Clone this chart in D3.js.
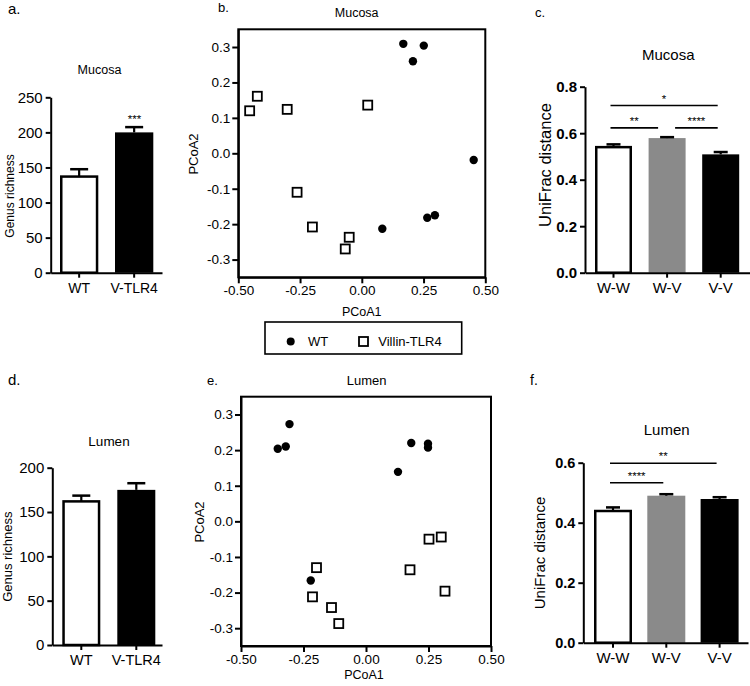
<!DOCTYPE html>
<html><head><meta charset="utf-8">
<script src="https://cdn.jsdelivr.net/npm/d3@7"></script>
<style>
body{margin:0;background:#fff}
svg{display:block}
text{font-family:"Liberation Sans",Arial,sans-serif;fill:#000}
</style>
</head><body>
<svg id="fig" width="750" height="686"></svg>
<script>
// ---------------- DATA ----------------
const richCats = ["WT", "V-TLR4"];
const mucosaRich = [137, 200];
const mucosaRichErr = [10.5, 7.5];
const lumenRich = [162, 175];
const lumenRichErr = [6.5, 7.5];
const richTicksMucosa = [0, 50, 100, 150, 200, 250];
const richTicksLumen = [0, 50, 100, 150, 200];

const uniCats = ["W-W", "W-V", "V-V"];
const mucosaUni = [0.540, 0.579, 0.509];
const mucosaUniErr = [0.012, 0.004, 0.010];
const lumenUni = [0.439, 0.490, 0.479];
const lumenUniErr = [0.012, 0.005, 0.006];
const uniTicksMucosa = [0, 0.2, 0.4, 0.6, 0.8];
const uniTicksLumen = [0, 0.2, 0.4, 0.6];
const mucosaSig = [
  {from: "W-W", to: "V-V", label: "*", level: 0.719},
  {from: "W-W", to: "W-V", label: "**", level: 0.623},
  {from: "W-V", to: "V-V", label: "****", level: 0.623}
];
const lumenSig = [
  {from: "W-W", to: "V-V", label: "**", level: 0.598},
  {from: "W-W", to: "W-V", label: "****", level: 0.533}
];

const pcoaXTicks = [-0.5, -0.25, 0, 0.25, 0.5];
const pcoaYTicks = [-0.3, -0.2, -0.1, 0, 0.1, 0.2, 0.3];
const mucosaWT_x = [0.168, 0.207, 0.251, 0.453, 0.083, 0.265, 0.296];
const mucosaWT_y = [0.309, 0.260, 0.304, -0.019, -0.213, -0.182, -0.175];
const mucosaVil_x = [-0.454, -0.423, -0.302, 0.024, -0.262, -0.200, -0.051, -0.067];
const mucosaVil_y = [0.120, 0.161, 0.124, 0.136, -0.110, -0.208, -0.237, -0.270];
const lumenWT_x = [-0.353, -0.321, -0.306, 0.181, 0.248, 0.248, 0.128, -0.221];
const lumenWT_y = [0.204, 0.210, 0.273, 0.220, 0.218, 0.207, 0.139, -0.166];
const lumenVil_x = [-0.198, -0.214, -0.138, -0.109, 0.176, 0.252, 0.301, 0.316];
const lumenVil_y = [-0.130, -0.212, -0.242, -0.287, -0.136, -0.050, -0.044, -0.196];
const legendLabels = ["WT", "Villin-TLR4"];

// ---------------- DRAW ----------------
const svg = d3.select("#fig");
svg.append("rect").attr("width", 750).attr("height", 686).attr("fill", "#fff");
const fmt = f => v => d3.format(f)(v).replace("\u2212", "-");

function txt(x, y, s, size, opts = {}) {
  const t = svg.append("text").attr("x", x).attr("y", y).text(s)
    .attr("font-size", size).attr("text-anchor", opts.anchor || "start");
  if (opts.bold) t.attr("font-weight", "bold");
  if (opts.rotate) t.attr("transform", `rotate(-90,${x},${y})`);
  return t;
}

function bandFor(cats, x0, x1, firstStart, bw, step) {
  const n = cats.length;
  const pi = 1 - bw / step;
  const totalOuter = (x1 - x0) - (n * step - (step - bw));
  const po = totalOuter / (2 * step);
  const align = totalOuter > 0 ? (firstStart - x0) / totalOuter : 0.5;
  return d3.scaleBand().domain(cats).range([x0, x1])
    .paddingInner(pi).paddingOuter(po).align(align);
}

function styleAxis(g, sw) {
  g.selectAll(".domain").attr("stroke", "#000").attr("stroke-width", sw);
  g.selectAll(".tick line").attr("stroke", "#000").attr("stroke-width", sw);
}

function barPanel(o) {
  const x = bandFor(o.cats, o.axisX, o.baseEnd, o.firstStart, o.bw, o.step);
  const y = d3.scaleLinear().domain(o.yDomain).range([o.y0, o.yTop]);
  const g = svg.append("g");
  const cx = d => x(d) + x.bandwidth() / 2;

  g.selectAll("rect.bar").data(o.cats).join("rect").attr("class", "bar")
    .attr("x", d => x(d) + (o.strokes[o.cats.indexOf(d)] ? 1.25 : 0))
    .attr("width", d => x.bandwidth() - (o.strokes[o.cats.indexOf(d)] ? 2.5 : 0))
    .attr("y", (d, i) => y(o.values[i]))
    .attr("height", (d, i) => y(0) - y(o.values[i]))
    .attr("fill", (d, i) => o.fills[i])
    .attr("stroke", (d, i) => o.strokes[i] || "none")
    .attr("stroke-width", 2.5);

  // error bars (upper only)
  o.cats.forEach((d, i) => {
    const top = y(o.values[i] + o.errs[i]);
    g.append("line").attr("x1", cx(d)).attr("x2", cx(d))
      .attr("y1", y(o.values[i])).attr("y2", top)
      .attr("stroke", "#000").attr("stroke-width", 2.2);
    g.append("line").attr("x1", cx(d) - o.capW / 2).attr("x2", cx(d) + o.capW / 2)
      .attr("y1", top).attr("y2", top)
      .attr("stroke", "#000").attr("stroke-width", 2.5);
  });

  const ya = g.append("g").attr("transform", `translate(${o.axisX},0)`)
    .call(d3.axisLeft(y).tickValues(o.yTicks).tickFormat(o.yFmt)
      .tickSize(5).tickSizeOuter(0).tickPadding(3));
  styleAxis(ya, 2);
  ya.selectAll("text").attr("font-size", o.yTickSize)
    .attr("font-weight", o.yTickBold ? "bold" : "normal")
    .attr("font-family", '"Liberation Sans",Arial,sans-serif').attr("fill", "#000");

  const xa = g.append("g").attr("transform", `translate(0,${o.y0})`)
    .call(d3.axisBottom(x).tickSize(5).tickSizeOuter(0).tickPadding(o.xPad));
  styleAxis(xa, 2);
  xa.selectAll("text").attr("font-size", o.xTickSize)
    .attr("font-family", '"Liberation Sans",Arial,sans-serif').attr("fill", "#000");

  if (o.sig) {
    const ends = {};
    o.sig.forEach(s => {
      [s.from, s.to].forEach(c => {
        const k = s.level + "|" + c;
        ends[k] = (ends[k] || 0) + 1;
      });
    });
    o.sig.forEach(s => {
      let x1 = cx(s.from) - 3, x2 = cx(s.to) - 3;
      if (ends[s.level + "|" + s.from] > 1) x1 = cx(s.from) + 8;
      if (ends[s.level + "|" + s.to] > 1) x2 = cx(s.to) - 9;
      const yy = y(s.level);
      g.append("line").attr("x1", x1).attr("x2", x2).attr("y1", yy).attr("y2", yy)
        .attr("stroke", "#000").attr("stroke-width", 1.6);
      txt((x1 + x2) / 2, yy - 3, s.label, 11.5, {anchor: "middle"});
    });
  }
  return {x, y, cx};
}

function scatterPanel(o) {
  const x = d3.scaleLinear().domain([-0.5, 0.5]).range([o.xl, o.xr]);
  const y = d3.scaleLinear().domain([-0.35, 0.35]).range([o.yb, o.yt]);
  const g = svg.append("g");
  const ya = g.append("g").attr("transform", `translate(${o.xl},0)`)
    .call(d3.axisLeft(y).tickValues(pcoaYTicks).tickFormat(fmt(".1f"))
      .tickSize(6).tickSizeOuter(0).tickPadding(2));
  styleAxis(ya, 2);
  ya.selectAll("text").attr("font-size", o.tickSize)
    .attr("font-family", '"Liberation Sans",Arial,sans-serif').attr("fill", "#000");
  const xa = g.append("g").attr("transform", `translate(0,${o.yb})`)
    .call(d3.axisBottom(x).tickValues(pcoaXTicks).tickFormat(fmt(".2f"))
      .tickSize(6).tickSizeOuter(0).tickPadding(2));
  styleAxis(xa, 2);
  xa.selectAll("text").attr("font-size", o.tickSize)
    .attr("font-family", '"Liberation Sans",Arial,sans-serif').attr("fill", "#000");
  g.append("rect").attr("x", o.xl).attr("y", o.yt)
    .attr("width", o.xr - o.xl).attr("height", o.yb - o.yt)
    .attr("fill", "none").attr("stroke", "#000").attr("stroke-width", 2);

  g.selectAll("circle.wt").data(o.wx).join("circle").attr("class", "wt")
    .attr("cx", d => x(d)).attr("cy", (d, i) => y(o.wy[i]))
    .attr("r", 4.2).attr("fill", "#000");
  const s = 9;
  g.selectAll("rect.vil").data(o.vx).join("rect").attr("class", "vil")
    .attr("x", d => x(d) - s / 2).attr("y", (d, i) => y(o.vy[i]) - s / 2)
    .attr("width", s).attr("height", s)
    .attr("fill", "#fff").attr("stroke", "#000").attr("stroke-width", 1.8);
}

// Panel a
barPanel({cats: richCats, values: mucosaRich, errs: mucosaRichErr,
  fills: ["#fff", "#000"], strokes: ["#000", null],
  axisX: 50.7, baseEnd: 162, firstStart: 60, bw: 38.3, step: 55,
  yDomain: [0, 250], y0: 272.7, yTop: 97.3, yTicks: richTicksMucosa, yFmt: d3.format("d"),
  yTickSize: 15, xTickSize: 14, xPad: 5, capW: 18});
txt(8, 13.5, "a.", 15);
txt(99.5, 74, "Mucosa", 12.5, {anchor: "middle"});
txt(13.5, 196, "Genus richness", 12, {anchor: "middle", rotate: true});
txt(134.5, 123, "***", 11.5, {anchor: "middle"});

// Panel d
barPanel({cats: richCats, values: lumenRich, errs: lumenRichErr,
  fills: ["#fff", "#000"], strokes: ["#000", null],
  axisX: 52.3, baseEnd: 162, firstStart: 62.3, bw: 38, step: 55,
  yDomain: [0, 200], y0: 645, yTop: 467.7, yTicks: richTicksLumen, yFmt: d3.format("d"),
  yTickSize: 15, xTickSize: 14.5, xPad: 5, capW: 18});
txt(8, 385, "d.", 15);
txt(109, 446, "Lumen", 13.5, {anchor: "middle"});
txt(12, 556.7, "Genus richness", 13, {anchor: "middle", rotate: true});

// Panel c
barPanel({cats: uniCats, values: mucosaUni, errs: mucosaUniErr,
  fills: ["#fff", "#8a8a8a", "#000"], strokes: ["#000", null, null],
  axisX: 585, baseEnd: 750, firstStart: 595, bw: 37, step: 53.6,
  yDomain: [0, 0.8], y0: 272.7, yTop: 86.7, yTicks: uniTicksMucosa, yFmt: d3.format(".1f"),
  yTickSize: 15, yTickBold: true, xTickSize: 15, xPad: 5, capW: 14,
  sig: mucosaSig});
txt(535, 17, "c.", 13);
txt(668.3, 60, "Mucosa", 15, {anchor: "middle"});
txt(551, 165, "UniFrac distance", 16.5, {anchor: "middle", rotate: true});

// Panel f
barPanel({cats: uniCats, values: lumenUni, errs: lumenUniErr,
  fills: ["#fff", "#8a8a8a", "#000"], strokes: ["#000", null, null],
  axisX: 583.3, baseEnd: 748, firstStart: 594, bw: 38, step: 53.3,
  yDomain: [0, 0.6], y0: 642.7, yTop: 462.7, yTicks: uniTicksLumen, yFmt: d3.format(".1f"),
  yTickSize: 14.5, yTickBold: true, xTickSize: 15, xPad: 5, capW: 14,
  sig: lumenSig});
txt(530, 385, "f.", 14);
txt(666.7, 435, "Lumen", 15, {anchor: "middle"});
txt(545, 553, "UniFrac distance", 15, {anchor: "middle", rotate: true});

// Panel b
scatterPanel({xl: 238.3, xr: 485.3, yt: 29.3, yb: 277.3, tickSize: 13.5,
  wx: mucosaWT_x, wy: mucosaWT_y, vx: mucosaVil_x, vy: mucosaVil_y});
txt(218, 12, "b.", 13);
txt(356.7, 17, "Mucosa", 12.5, {anchor: "middle"});
txt(361.7, 316, "PCoA1", 12.5, {anchor: "middle"});
txt(198, 154, "PCoA2", 13, {anchor: "middle", rotate: true});

// Panel e
scatterPanel({xl: 241, xr: 491, yt: 396.7, yb: 646, tickSize: 13.5,
  wx: lumenWT_x, wy: lumenWT_y, vx: lumenVil_x, vy: lumenVil_y});
txt(207, 385, "e.", 13);
txt(366.7, 385, "Lumen", 13, {anchor: "middle"});
txt(364, 679, "PCoA1", 12.5, {anchor: "middle"});
txt(203.5, 522, "PCoA2", 13, {anchor: "middle", rotate: true});

// Legend
const lg = svg.append("g");
lg.append("rect").attr("x", 265).attr("y", 322).attr("width", 196.7).attr("height", 32)
  .attr("fill", "#fff").attr("stroke", "#000").attr("stroke-width", 1.6);
lg.append("circle").attr("cx", 290.7).attr("cy", 341.5).attr("r", 4).attr("fill", "#000");
lg.append("rect").attr("x", 359).attr("y", 337).attr("width", 9).attr("height", 9)
  .attr("fill", "#fff").attr("stroke", "#000").attr("stroke-width", 1.8);
txt(308, 346, legendLabels[0], 13);
txt(378.3, 346, legendLabels[1], 13);
</script>
</body></html>
